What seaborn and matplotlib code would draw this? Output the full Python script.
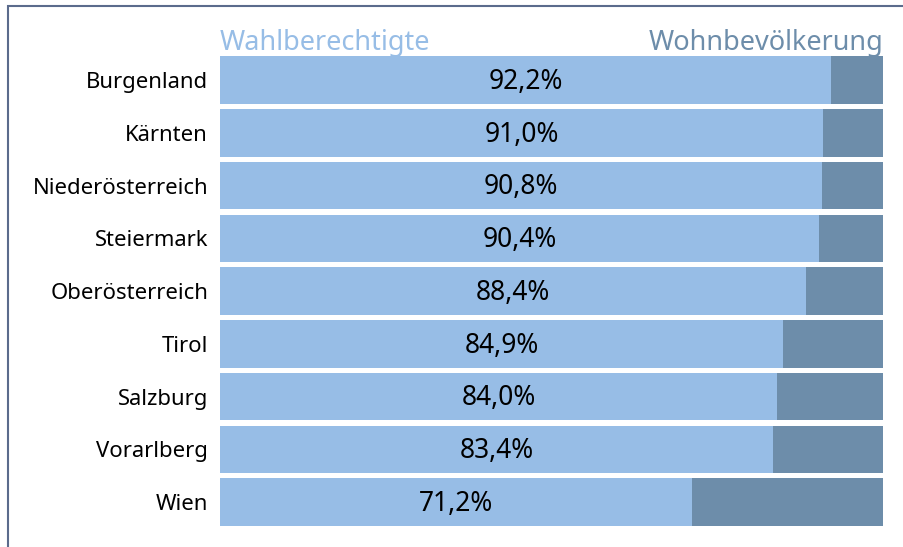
import matplotlib
matplotlib.use("Agg")
import matplotlib.pyplot as plt
import seaborn as sns
import pandas as pd
from matplotlib.patches import Rectangle

# Anteil der Wahlberechtigten an der Wohnbevölkerung je Bundesland
laender = ["Burgenland", "Kärnten", "Niederösterreich", "Steiermark",
           "Oberösterreich", "Tirol", "Salzburg", "Vorarlberg", "Wien"]
wahlberechtigte = [92.2, 91.0, 90.8, 90.4, 88.4, 84.9, 84.0, 83.4, 71.2]
gesamt = [100.0] * len(laender)

LIGHT = "#97bde6"
DARK = "#6d8daa"

sns.set_theme(style="white")
plt.rcParams["font.family"] = ["Noto Sans", "DejaVu Sans"]

df = pd.DataFrame({"land": laender, "wb": wahlberechtigte, "gesamt": gesamt})

fig = plt.figure(figsize=(9.04, 5.47), dpi=100)
ax = fig.add_axes([220 / 904, 1 - 528.4 / 547, 663 / 904, 474.75 / 547])

sns.barplot(data=df, y="land", x="gesamt", orient="h", color=DARK,
            saturation=1, width=0.9, linewidth=0, ax=ax)
sns.barplot(data=df, y="land", x="wb", orient="h", color=LIGHT,
            saturation=1, width=0.9, linewidth=0, ax=ax)

ax.set_xlim(0, 100)
ax.set_ylim(len(laender) - 0.5, -0.5)
ax.set_xlabel("")
ax.set_ylabel("")
ax.set_xticks([])
for s in ax.spines.values():
    s.set_visible(False)
ax.tick_params(axis="y", length=0, pad=8.6, labelsize=15.9, labelcolor="black")

for i, v in enumerate(wahlberechtigte):
    ax.text(v / 2, i + 0.17, f"{v:.1f}%".replace(".", ","), ha="center",
            va="baseline", fontsize=19, color="black")

ax.text(0, 1.0076, "Wahlberechtigte", transform=ax.transAxes, ha="left",
        va="baseline", fontsize=19.5, color=LIGHT)
ax.text(1, 1.0076, "Wohnbevölkerung", transform=ax.transAxes, ha="right",
        va="baseline", fontsize=19.5, color=DARK)

# Rahmen um die Grafik
fig.patches.append(Rectangle((7.5 / 904, -0.1), 1.2, 1 - 5.5 / 547 + 0.1,
                             transform=fig.transFigure, fill=False,
                             edgecolor="#5b6b8c", linewidth=1.5))

fig.savefig("out.png", dpi=100)
